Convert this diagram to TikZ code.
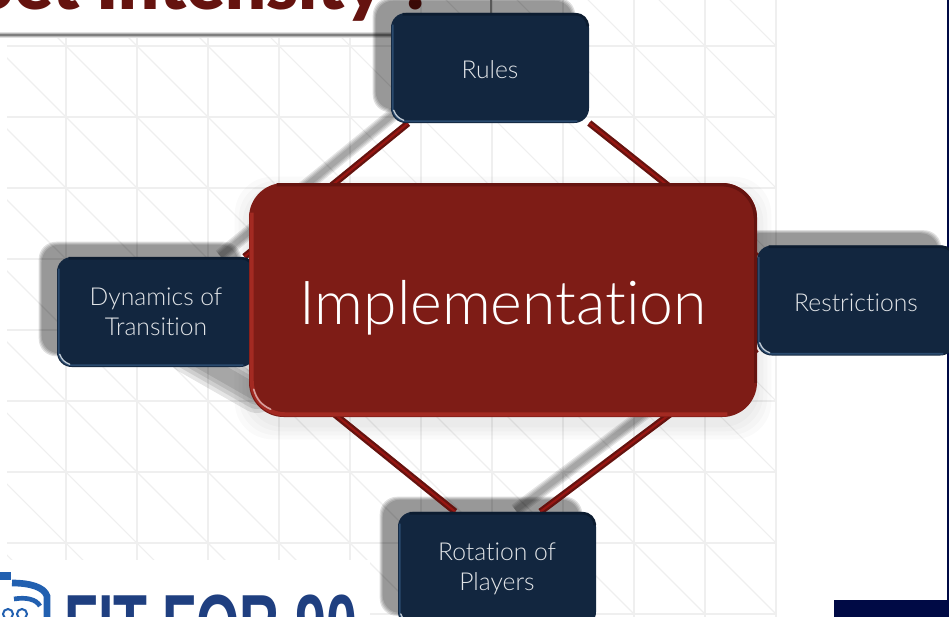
\documentclass[tikz,border=0pt]{standalone}
\usepackage{fontspec}
\setmainfont{Lato}
\newfontfamily\lightfont[Ligatures=NoCommon]{Lato Light}
\newfontfamily\titlefont{Lato Black}
\newfontfamily\logofont{Liberation Sans}
\usetikzlibrary{positioning,backgrounds}

\definecolor{navyfill}{HTML}{12263F}
\definecolor{navydark}{HTML}{0C1C30}
\definecolor{navyglow}{HTML}{2A4A6E}
\definecolor{wine}{HTML}{7E1C16}
\definecolor{winedark}{HTML}{65130F}
\definecolor{winelight}{HTML}{A32A22}
\definecolor{gridline}{HTML}{EFEFEF}
\definecolor{logoblue}{HTML}{1F3F80}
\definecolor{shieldblue}{HTML}{2260B0}
\definecolor{pagenavy}{HTML}{000A45}

\tikzset{
    navybox/.style={rounded corners=11pt, fill=navyfill, text=white!88!navyfill, align=center,
        minimum width=148.5pt, minimum height=82.5pt, inner sep=0pt,
        font=\lightfont\fontsize{18.5}{22.5}\selectfont,
        execute at begin node=\rule{0pt}{16.5pt}},
    winebox/.style={rounded corners=26pt, fill=wine, text=white, inner sep=0pt,
        minimum width=381pt, minimum height=175.5pt,
        font=\lightfont\fontsize{45.5}{50}\selectfont},
    linkouter/.style={draw=winedark, line width=5pt},
    linkinner/.style={draw=wine!80!red, line width=1.6pt},
    softline/.style={draw=black, opacity=.1, line width=#1, line cap=round}
}

\begin{document}
\begin{tikzpicture}[x=0.75pt,y=-0.75pt]
    \useasboundingbox (0,0) rectangle (949,617);
    \clip (0,0) rectangle (949,617);

    % Boxes
    \node[navybox] (rules) at (490,68) {Rules};
    \node[navybox] (dyn) at (156,312) {Dynamics of\\Transition};
    \node[navybox] (restr) at (856,300.5) {Restrictions};
    \node[navybox, minimum height=86pt] (rot) at (497,569.3) {Rotation of\\Players};

    % Bevels of the boxes
    \foreach \n in {rules,dyn,restr,rot} {
        \draw[navydark, line width=2pt, rounded corners=9pt]
            ([shift={(12,1.5)}]\n.north west) -- ([shift={(-1.5,1.5)}]\n.north east) -- ([shift={(-1.5,12)}]\n.north east);
        \draw[navyglow, line width=1.2pt, rounded corners=10pt]
            ([shift={(2,12)}]\n.north west) -- ([shift={(2,-2)}]\n.south west) -- ([shift={(-12,-2)}]\n.south east);
        \draw[white!70!navyglow, line width=1pt, line cap=round]
            ([shift={(3,-13)}]\n.south west) to[bend right=25] ([shift={(13,-3)}]\n.south west);
    }

    \node[winebox, text depth=0pt] (impl) at (503,300) {\raisebox{-4pt}{Implementation}};

    \begin{scope}[on background layer]
        % Grid
        \begin{scope}
            \clip (7,0) rectangle (777,617);
            \foreach \x in {66,137,...,777} {
                \draw[gridline, line width=1.3pt] (\x,0) -- (\x,617);
            }
            \foreach \y in {46,117,...,614} {
                \draw[gridline, line width=1.3pt] (0,\y) -- (777,\y);
            }
            \foreach \x in {-5,66,...,706} {
                \foreach \y in {-25,46,...,543} {
                    \draw[gridline, line width=.8pt] (\x,\y) -- (\x+71,\y+71);
                }
            }
        \end{scope}

        % Title and rule
        \fill[white] (0,0) rectangle (400,38);
        \node[anchor=base east, text=winedark, inner sep=0pt, font=\titlefont\fontsize{54}{60}\selectfont] (title) at (435,10) {Set Intensity ?};
        \foreach \w/\o in {5/.12,3/.18,1.5/.3} {
            \draw[black, opacity=\o, line width=\w pt] (0,35) -- (rules.west |- 0,35);
        }

        % Logo
        \fill[white] (0,560) rectangle (370,617);
        \node[anchor=base west, text=logoblue, inner sep=0pt, xscale=.65, transform shape, font=\logofont\bfseries\fontsize{64}{70}\selectfont] (logo) at (64,654) {FIT FOR 90};
        \draw[shieldblue, line width=5pt] (12,583) .. controls (30,583) and (44,587) .. (47,596) -- (47,620);
        \draw[shieldblue, line width=3.5pt] (14,599) .. controls (26,597) and (36,599) .. (40,606);
        \fill[shieldblue] (0,572) rectangle (11,580);
        \draw[shieldblue, line width=1.5pt] (22,614) circle (5);
        \draw[shieldblue, line width=1.5pt] (8,614) circle (5);

        % Right margin
        \fill[pagenavy] (947,0) rectangle (949,600);
        \fill[pagenavy] (834,600) rectangle (949,617);

        % Soft shadows of the boxes
        \foreach \n in {rules,dyn,restr,rot} {
            \foreach \g in {2,1,0,-1} {
                \fill[black, opacity=.12, rounded corners=13pt]
                    ([shift={(-16-\g,-13-\g)}]\n.north west) rectangle ([shift={(-16+\g,-13+\g)}]\n.south east);
            }
        }
        \foreach \g in {14,10,6,2} {
            \fill[black, opacity=.018, rounded corners=28pt]
                ([shift={(-\g,8-\g)}]impl.north west) rectangle ([shift={(\g,8+\g)}]impl.south east);
        }
        \coordinate (wedgeA) at (187,353);
        \coordinate (wedgeB) at (257,393);
        \foreach \w in {30,24,18,12} {
            \draw[softline=\w pt] (wedgeA) -- (wedgeB);
        }

        % Stub above the top box
        \coordinate (stub) at (491,0);
        \draw[black!65, line width=1pt] (stub) -- (rules.north -| stub);

        % Connectors
        \foreach \a/\b in {rules.214.5/dyn.32, restr.206/rot.53.1} {
            \foreach \w in {10,8,6,4} {
                \draw[softline=\w pt, line cap=butt, shorten >=-12pt, shorten <=-6pt,
                    transform canvas={shift={(-9pt,8.25pt)}}] (\a) -- (\b);
            }
        }
        \foreach \a/\b in {rules.214.5/dyn.32, rules.-29.4/restr.156, dyn.-21/rot.126.2, restr.206/rot.53.1} {
            \draw[linkouter] (\a) -- (\b);
            \draw[linkinner] (\a) -- (\b);
        }
    \end{scope}

    % Bevel of the middle box
    \draw[winedark, line width=2.5pt, rounded corners=25pt]
        ([shift={(28,2)}]impl.north west) -- ([shift={(-2,2)}]impl.north east) -- ([shift={(-2,34)}]impl.north east);
    \draw[winedark, line width=2pt] ([shift={(-2,34)}]impl.north east) -- ([shift={(-2,-34)}]impl.south east);
    \draw[winelight, line width=3pt, rounded corners=25pt]
        ([shift={(3,30)}]impl.north west) -- ([shift={(3,-3)}]impl.south west) -- ([shift={(-30,-3)}]impl.south east);
    \draw[white!55!winelight, line width=1.2pt, line cap=round]
        ([shift={(5,-28)}]impl.south west) to[bend right=25] ([shift={(22,-8)}]impl.south west);
\end{tikzpicture}
\end{document}
